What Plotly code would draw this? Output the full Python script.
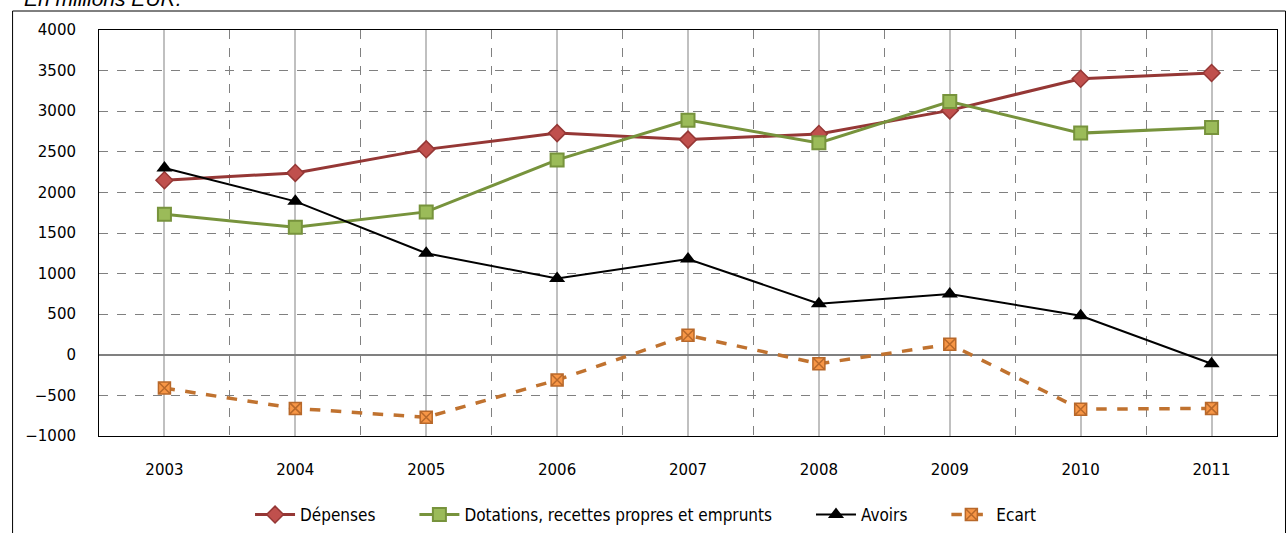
import plotly.graph_objects as go

# Series (millions EUR)
years = ["2003", "2004", "2005", "2006", "2007", "2008", "2009", "2010", "2011"]
depenses = [2150, 2240, 2530, 2730, 2650, 2720, 3010, 3400, 3470]
dotations = [1730, 1570, 1760, 2400, 2890, 2610, 3120, 2730, 2800]
avoirs = [2300, 1890, 1250, 940, 1180, 630, 750, 480, -110]
ecart = [-410, -660, -770, -310, 240, -110, 130, -670, -660]

y_ticks = list(range(-1000, 4001, 500))

W, H = 1288, 533
ML, MR, MT, MB = 98.5, 10.5, 30, 97
PW, PH = W - ML - MR, H - MT - MB

xs = list(range(len(years)))
GAP = "\u00a0" * 7  # spacing between legend entries

fig = go.Figure()

fig.add_trace(go.Scatter(
    x=xs, y=depenses, name="Dépenses" + GAP, mode="lines+markers",
    line=dict(color="#953735", width=3),
    marker=dict(symbol="diamond", size=13, color="#C0504D",
                line=dict(color="#953735", width=1.5)),
))
fig.add_trace(go.Scatter(
    x=xs, y=dotations, name="Dotations, recettes propres et emprunts" + GAP,
    mode="lines+markers",
    line=dict(color="#77933C", width=3),
    marker=dict(symbol="square", size=13, color="#9BBB59",
                line=dict(color="#77933C", width=2)),
))
fig.add_trace(go.Scatter(
    x=xs, y=avoirs, name="Avoirs" + GAP, mode="lines+markers",
    line=dict(color="#000000", width=2),
    marker=dict(symbol="triangle-up", size=14, color="#000000"),
))
fig.add_trace(go.Scatter(
    x=xs, y=ecart, name="Ecart", mode="lines+markers",
    line=dict(color="#C0722F", width=3.5, dash="dash"),
    marker=dict(symbol="square-x", size=12, color="#F79646",
                line=dict(color="#B8682A", width=1.5)),
))

def px_x(p):
    return (p - ML) / PW

def px_y(p):
    return 1 - (p - MT) / PH

# outer frame around the whole chart
fig.add_shape(type="rect", xref="paper", yref="paper",
              x0=px_x(12), x1=px_x(1286), y0=px_y(540), y1=px_y(11),
              line=dict(color="#000000", width=1), layer="below")

fig.add_annotation(
    text="En millions EUR.", xref="paper", yref="paper",
    x=px_x(21), y=px_y(12), xanchor="left", yanchor="bottom",
    showarrow=False,
    font=dict(family="Liberation Sans, Arial, sans-serif", size=21,
              color="#000000", style="italic"),
)

tick_font = dict(family="DejaVu Sans, Verdana, sans-serif", size=15,
                 color="#000000")

fig.update_xaxes(
    range=[-0.5, len(years) - 0.5],
    tickvals=xs, ticktext=years,
    showgrid=True, gridcolor="#C0C0C0", gridwidth=1.5,
    minor=dict(tick0=0.5, dtick=1, showgrid=True, gridcolor="#808080",
               griddash="dash", gridwidth=1),
    showline=True, linecolor="#000000", linewidth=1, mirror=True,
    ticks="", ticklabelstandoff=20, zeroline=False,
    tickfont=tick_font,
)
fig.update_yaxes(
    range=[-1000, 4000], tickvals=y_ticks,
    showgrid=True, gridcolor="#808080", griddash="dash", gridwidth=1,
    zeroline=True, zerolinecolor="#808080", zerolinewidth=2,
    showline=True, linecolor="#000000", linewidth=1, mirror=True,
    ticks="", ticklabelstandoff=19,
    tickfont=tick_font,
)

fig.update_layout(
    width=W, height=H,
    margin=dict(l=ML, r=MR, t=MT, b=MB, autoexpand=False),
    paper_bgcolor="#FFFFFF", plot_bgcolor="#FFFFFF",
    showlegend=True,
    legend=dict(
        orientation="h", xanchor="center", x=px_x(646),
        yanchor="middle", y=px_y(515),
        font=dict(family="DejaVu Sans Condensed, Liberation Sans Narrow, sans-serif",
                  size=17, color="#000000"),
        itemwidth=40, traceorder="normal",
        bgcolor="rgba(0,0,0,0)",
    ),
)

fig.write_html("out.html")
